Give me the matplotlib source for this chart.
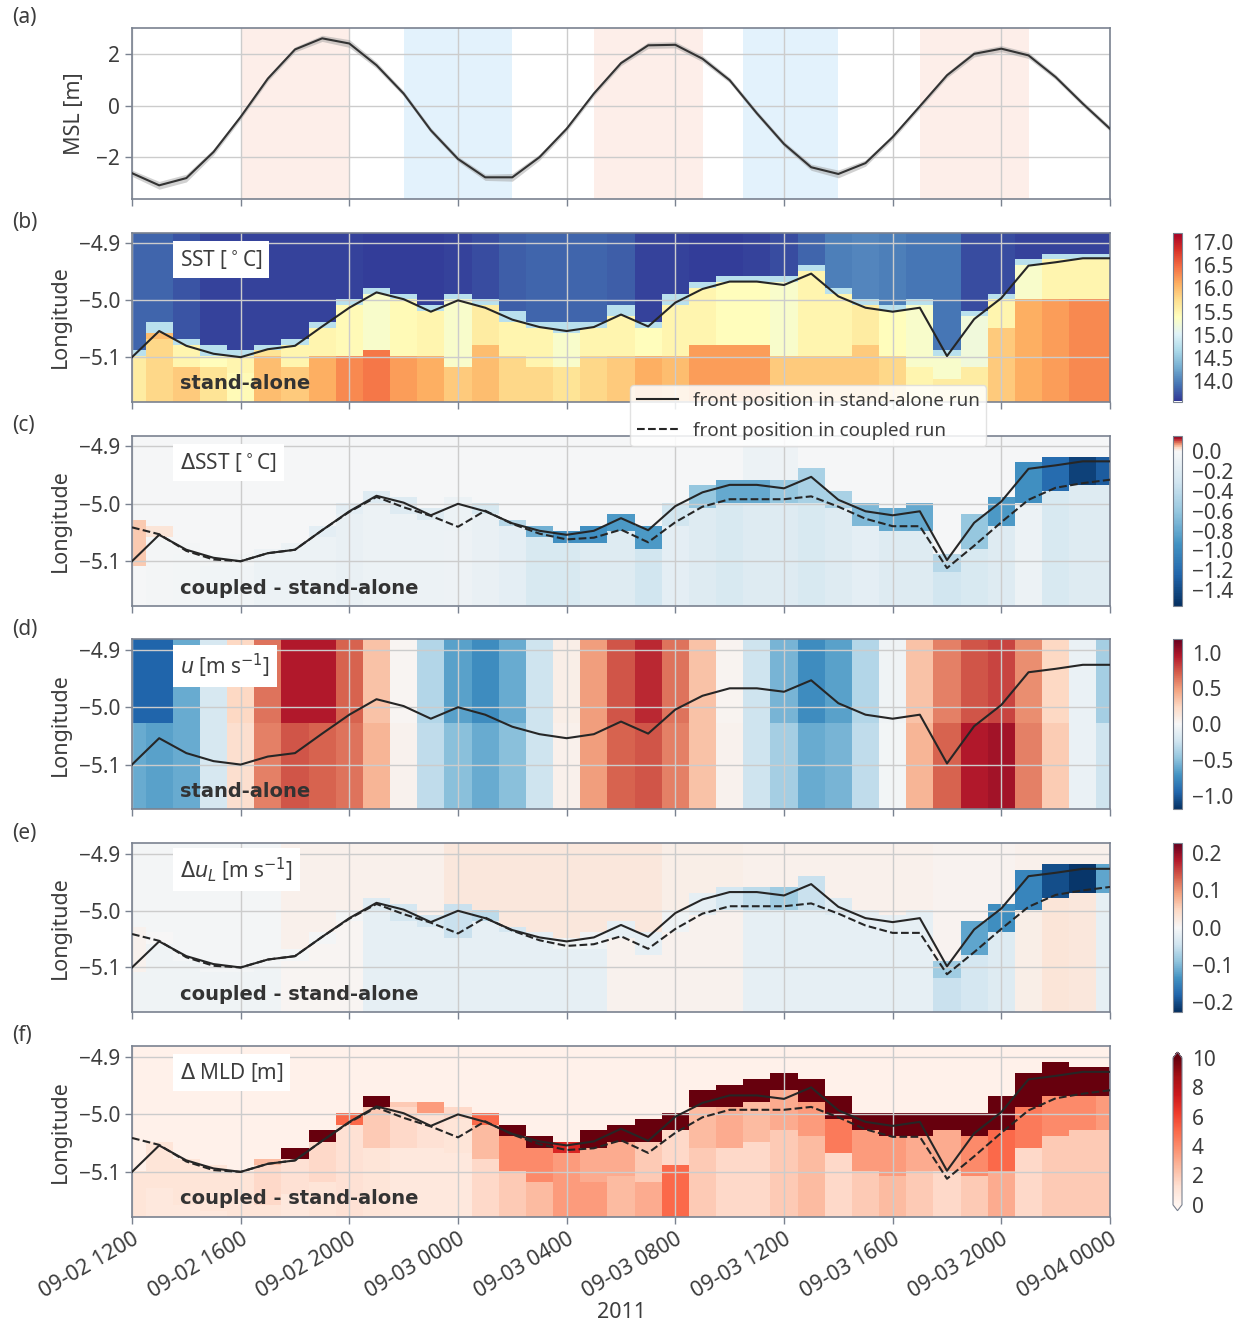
import numpy as np
import pandas as pd
import matplotlib
matplotlib.use('Agg')
import matplotlib.pyplot as plt
import matplotlib.dates as mdates
from matplotlib.colors import Normalize, ListedColormap
from matplotlib.lines import Line2D

plt.rcParams['font.family'] = ['Noto Sans', 'DejaVu Sans']
plt.rcParams['mathtext.fontset'] = 'dejavusans'
plt.rcParams['axes.unicode_minus'] = True

TXT = '#3d3d3d'
SPINE = '#7a8290'
GRID = '#cccccc'

# ---- data (hourly, 2011-09-02 12:00 .. 2011-09-04 00:00) ----
times = pd.date_range('2011-09-02 12:00', periods=37, freq='h')

msl = [-2.62, -3.09, -2.81, -1.80, -0.44, 1.04, 2.17, 2.60, 2.40, 1.56,
       0.46, -0.96, -2.07, -2.78, -2.78, -2.00, -0.90, 0.46, 1.64, 2.33,
       2.35, 1.81, 0.98, -0.30, -1.49, -2.39, -2.65, -2.23, -1.22, -0.03,
       1.17, 2.00, 2.20, 1.94, 1.10, 0.07, -0.90]
msl_spread = [0.12, 0.15, 0.15, 0.12, 0.10, 0.10, 0.10, 0.12, 0.15, 0.12,
              0.10, 0.10, 0.10, 0.12, 0.15, 0.12, 0.10, 0.10, 0.10, 0.12,
              0.12, 0.12, 0.10, 0.10, 0.10, 0.12, 0.15, 0.12, 0.10, 0.10,
              0.10, 0.12, 0.12, 0.12, 0.10, 0.10, 0.10]
flood_hours = [(4, 8), (17, 21), (29, 33)]
ebb_hours = [(10, 14), (22.5, 26)]

front_sa = [-5.100, -5.054, -5.080, -5.094, -5.100, -5.086, -5.080, -5.046, -5.013, -4.986,
            -4.998, -5.020, -5.000, -5.013, -5.034, -5.047, -5.054, -5.047, -5.025, -5.046,
            -5.004, -4.980, -4.967, -4.967, -4.973, -4.953, -4.993, -5.013, -5.020, -5.013,
            -5.098, -5.033, -4.996, -4.939, -4.933, -4.926, -4.926]
front_cp = [-5.041, -5.053, -5.082, -5.097, -5.100, -5.086, -5.080, -5.046, -5.014, -4.988,
            -5.006, -5.021, -5.040, -5.012, -5.035, -5.052, -5.062, -5.059, -5.045, -5.067,
            -5.032, -5.005, -4.992, -4.992, -4.992, -4.987, -5.005, -5.026, -5.039, -5.039,
            -5.112, -5.073, -5.032, -4.993, -4.972, -4.964, -4.958]

lon = np.arange(-5.173, -4.88, 0.01)

# SST stand-alone [deg C]
sst_cold = [13.85, 13.85, 13.75, 13.65, 13.65, 13.65, 13.65, 13.65, 13.65, 13.62,
            13.62, 13.62, 13.65, 13.7, 13.8, 13.85, 13.85, 13.85, 13.8, 13.65,
            13.65, 13.62, 13.62, 13.65, 13.7, 13.85, 14.0, 14.05, 14.0, 13.95,
            13.95, 13.7, 13.7, 13.65, 13.65, 13.65, 13.65]
sst_near = [15.6, 16.0, 15.5, 15.4, 15.5, 15.7, 15.5, 15.5, 15.45, 15.3,
            15.45, 15.5, 15.3, 15.6, 15.5, 15.5, 15.3, 15.5, 15.5, 15.4,
            15.5, 15.5, 15.4, 15.4, 15.3, 15.5, 15.5, 15.6, 15.4, 15.3,
            15.3, 15.2, 15.5, 15.3, 15.5, 15.5, 15.5]
sst_far = [15.5, 15.8, 15.9, 15.7, 15.45, 16.0, 15.9, 16.1, 16.3, 16.4,
           16.2, 16.1, 15.9, 16.0, 15.8, 15.8, 15.7, 15.8, 15.9, 16.1,
           16.0, 16.2, 16.2, 16.2, 15.9, 15.9, 15.9, 15.9, 15.8, 15.5,
           15.6, 15.6, 15.9, 16.1, 16.2, 16.3, 16.3]
sst_split = [-5.18, -5.07, -5.12, -5.12, -5.13, -5.10, -5.12, -5.10, -5.10, -5.09,
             -5.10, -5.10, -5.12, -5.08, -5.10, -5.12, -5.12, -5.10, -5.10, -5.10,
             -5.10, -5.08, -5.08, -5.08, -5.10, -5.10, -5.10, -5.08, -5.10, -5.12,
             -5.14, -5.12, -5.05, -5.00, -5.00, -5.00, -5.00]
SST_EDGE = 14.75

# delta SST coupled - stand-alone [deg C]
dsst_n = [-0.02] * 23 + [-0.1, -0.08] + [-0.02] * 12
dsst_band = [0.04, 0.02, -0.03, -0.05, -0.05, -0.08, -0.1, -0.15, -0.15, -0.2,
             -0.2, -0.2, -0.1, -0.25, -0.45, -0.75, -0.95, -0.95, -0.9, -0.9,
             -0.3, -0.6, -0.8, -0.8, -0.6, -0.5, -0.5, -0.7, -0.8, -0.8,
             -0.45, -0.6, -0.9, -0.95, -1.2, -1.45, -1.3]
dsst_s = [-0.02, -0.03, -0.05, -0.06, -0.06, -0.1, -0.1, -0.1, -0.12, -0.1,
          -0.1, -0.1, -0.08, -0.12, -0.15, -0.25, -0.25, -0.2, -0.2, -0.3,
          -0.15, -0.2, -0.25, -0.2, -0.2, -0.25, -0.2, -0.15, -0.2, -0.2,
          -0.3, -0.25, -0.2, -0.1, -0.25, -0.2, -0.2]

# u stand-alone [m/s]
u_top = [-0.95, -0.95, -0.6, -0.2, 0.25, 0.65, 0.95, 0.95, 0.7, 0.35,
         0.02, -0.35, -0.65, -0.75, -0.6, -0.25, 0.08, 0.5, 0.75, 0.9,
         0.65, 0.35, 0.03, -0.25, -0.55, -0.75, -0.65, -0.35, -0.05, 0.35,
         0.6, 0.75, 0.8, 0.55, 0.25, -0.08, -0.4]
u_bot = [-0.6, -0.65, -0.6, -0.2, 0.2, 0.6, 0.75, 0.7, 0.65, 0.4,
         0.05, -0.3, -0.5, -0.6, -0.5, -0.25, 0.06, 0.5, 0.7, 0.75,
         0.6, 0.35, 0.05, -0.25, -0.4, -0.6, -0.55, -0.3, -0.03, 0.4,
         0.7, 0.95, 1.0, 0.6, 0.3, -0.08, -0.25]

# delta u_L coupled - stand-alone [m/s]
du_n = [-0.005] * 6 + [0.012] * 6 + [0.025] * 8 + [0.015] * 3 + [0.012] * 7 + [0.008] * 3 + [0.012] * 4
du_band = [0.01, 0.0, -0.005, -0.005, -0.005, -0.005, -0.005, -0.005, -0.005, -0.03,
           -0.04, -0.04, -0.05, -0.06, -0.04, -0.02, -0.01, -0.01, -0.02, -0.02,
           -0.01, -0.02, -0.04, -0.06, -0.08, -0.05, -0.03, -0.02, -0.02, -0.02,
           -0.08, -0.12, -0.14, -0.15, -0.2, -0.22, -0.12]
du_s = [-0.01] * 6 + [0.005] * 3 + [-0.02] * 9 + [0.01] * 5 + [-0.02] * 7 + \
       [-0.05, -0.04, -0.03, 0.015, 0.03, 0.025, -0.02]

# delta MLD coupled - stand-alone [m]
MLD_NORTH = 0.25
mld_top = [-5.100, -5.054, -5.080, -5.094, -5.100, -5.080, -5.064, -5.038, -5.005, -4.978,
           -4.980, -4.987, -4.997, -5.005, -5.025, -5.045, -5.054, -5.038, -5.020, -5.018,
           -5.003, -4.966, -4.958, -4.944, -4.931, -4.944, -4.971, -5.003, -5.005, -5.005,
           -5.003, -5.003, -4.978, -4.932, -4.910, -4.919, -4.923]
mld_bot = [-5.105, -5.059, -5.085, -5.099, -5.105, -5.088, -5.072, -5.045, -5.011, -4.985,
           -4.985, -4.993, -5.003, -5.011, -5.031, -5.051, -5.063, -5.050, -5.040, -5.045,
           -5.019, -4.987, -4.984, -4.978, -4.957, -4.969, -5.001, -5.026, -5.038, -5.031,
           -5.028, -5.038, -5.028, -4.987, -4.966, -4.963, -4.959]
mld_strip = [1.0, 1.0, 1.0, 1.0, 1.0, 2.5, 12, 12, 5, 12,
             2.0, 3.5, 1.5, 5, 12, 12, 7, 12, 12, 12,
             12, 12, 12, 12, 12, 12, 12, 12, 12, 12,
             12, 12, 12, 12, 12, 12, 12]
mld_near = [1.0, 1.0, 1.0, 1.0, 1.0, 1.5, 1.2, 1.5, 1.2, 2.0,
            1.5, 1.2, 1.0, 2.5, 4.0, 4.0, 3.5, 3.0, 3.0, 2.0,
            1.5, 2.5, 3.0, 2.5, 3.0, 3.5, 4.5, 3.5, 3.5, 3.0,
            3.0, 4.0, 5.0, 4.5, 4.0, 4.0, 3.5]
mld_far = [0.8, 0.8, 0.8, 0.8, 0.8, 1.0, 0.8, 1.0, 1.2, 1.0,
           0.8, 0.8, 0.8, 1.5, 2.0, 2.5, 3.5, 3.5, 2.5, 3.0,
           5.0, 2.0, 1.5, 1.5, 2.0, 2.5, 1.5, 2.0, 2.5, 2.0,
           1.5, 2.0, 3.0, 1.5, 2.0, 2.0, 2.0]

# ---- build the gridded fields from the column values ----
nt, ny = len(times), len(lon)
sst = np.zeros((ny, nt))
dsst = np.zeros((ny, nt))
u = np.zeros((ny, nt))
du = np.zeros((ny, nt))
dmld = np.zeros((ny, nt))
for j in range(nt):
    s, d = front_sa[j], front_cp[j]
    hi, lo = max(s, d) + 0.01, min(s, d) - 0.008
    for i, y in enumerate(lon):
        if y > s + 0.012:
            sst[i, j] = sst_cold[j]
        elif y > s:
            sst[i, j] = SST_EDGE
        elif y > sst_split[j]:
            sst[i, j] = sst_near[j]
        else:
            sst[i, j] = sst_far[j]

        if y > hi:
            dsst[i, j], du[i, j] = dsst_n[j], du_n[j]
        elif y > lo:
            dsst[i, j], du[i, j] = dsst_band[j], du_band[j]
        else:
            dsst[i, j], du[i, j] = dsst_s[j], du_s[j]

        u[i, j] = u_top[j] if y > -5.03 else u_bot[j]

        if y - 0.005 >= mld_top[j]:
            dmld[i, j] = MLD_NORTH
        elif y + 0.005 > mld_bot[j]:
            dmld[i, j] = mld_strip[j]
        elif y > mld_bot[j] - 0.07:
            dmld[i, j] = mld_near[j]
        else:
            dmld[i, j] = mld_far[j]

# ---- figure ----
W, H = 1240, 1324
fig = plt.figure(figsize=(W / 100, H / 100), dpi=100)


def rect(top, bottom, left=132, right=1110):
    return [left / W, 1 - bottom / H, (right - left) / W, (bottom - top) / H]


panels = [(28, 198.5), (232.7, 401.5), (435.5, 606), (639, 809.3), (843.3, 1011.7), (1046, 1216.7)]
tnum = mdates.date2num(times)
t0 = times[0]


def style(ax):
    for sp in ax.spines.values():
        sp.set_color(SPINE)
        sp.set_linewidth(1.2)
    ax.grid(True, color=GRID, lw=1.0)
    ax.tick_params(colors=SPINE, labelcolor=TXT, labelsize=15, length=5, width=1.0)
    ax.tick_params(axis='x', labelsize=15.5)
    ax.xaxis.set_major_locator(mdates.HourLocator(byhour=range(0, 24, 4)))
    ax.xaxis.set_major_formatter(mdates.DateFormatter('%m-%d %H%M'))
    ax.set_xlim(tnum[0], tnum[-1])


axes = [fig.add_axes(rect(*p)) for p in panels]

# (a) sea level
ax = axes[0]
for a, b in flood_hours:
    ax.axvspan(t0 + pd.Timedelta(hours=a), t0 + pd.Timedelta(hours=b), color='#fdeee9', lw=0)
for a, b in ebb_hours:
    ax.axvspan(t0 + pd.Timedelta(hours=a), t0 + pd.Timedelta(hours=b), color='#e3f2fc', lw=0)
msl_a = np.array(msl)
spr = np.array(msl_spread)
ax.fill_between(tnum, msl_a - spr, msl_a + spr, color='#9a9a9a', alpha=0.45, lw=0, zorder=2)
ax.plot(tnum, msl_a, color='#333333', lw=1.5, zorder=3)
ax.set_ylim(-3.6, 3.0)
ax.set_yticks([-2, 0, 2])
ax.set_ylabel('MSL [m]', fontsize=15.5, color=TXT, labelpad=8)
style(ax)

# colormap for delta SST: white at zero
base = plt.get_cmap('RdBu_r')
dsst_cmap = ListedColormap(np.vstack([base(np.linspace(0, 0.5, 232)), base(np.linspace(0.5, 1, 24))]))

fields = [
    (sst, 'RdYlBu_r', Normalize(13.57, 17.19), [14.0, 14.5, 15.0, 15.5, 16.0, 16.5, 17.0],
     r'SST [$^\circ$C]', 'stand-alone', False, 'neither'),
    (dsst, dsst_cmap, Normalize(-1.56, 0.16), [0.0, -0.2, -0.4, -0.6, -0.8, -1.0, -1.2, -1.4],
     r'$\Delta$SST [$^\circ$C]', 'coupled - stand-alone', True, 'neither'),
    (u, 'RdBu_r', Normalize(-1.19, 1.19), [-1.0, -0.5, 0.0, 0.5, 1.0],
     r'$u$ [m s$^{-1}$]', 'stand-alone', False, 'neither'),
    (du, 'RdBu_r', Normalize(-0.226, 0.226), [-0.2, -0.1, 0.0, 0.1, 0.2],
     r'$\Delta u_L$ [m s$^{-1}$]', 'coupled - stand-alone', True, 'neither'),
    (dmld, 'Reds', Normalize(0, 10), [0, 2, 4, 6, 8, 10],
     r'$\Delta$ MLD [m]', 'coupled - stand-alone', True, 'both'),
]

for k, (field, cmap, norm, cticks, title, run, dashed, ext) in enumerate(fields):
    ax = axes[k + 1]
    top, bottom = panels[k + 1]
    m = ax.pcolormesh(tnum, lon, field, cmap=cmap, norm=norm, shading='nearest')
    ax.plot(tnum, front_sa, color='#262626', lw=1.5, zorder=3)
    if dashed:
        ax.plot(tnum, front_cp, color='#262626', lw=1.5, ls='--', zorder=3)
    ax.set_ylim(-5.178, -4.881)
    ax.set_yticks([-5.1, -5.0, -4.9])
    ax.set_ylabel('Longitude', fontsize=15.5, color=TXT, labelpad=6)
    style(ax)
    ax.text(0.049, 0.843, title, transform=ax.transAxes, fontsize=15, color=TXT,
            va='center', ha='left', zorder=5,
            bbox=dict(facecolor='white', edgecolor='none', pad=5))
    ax.text(0.049, 0.104, run, transform=ax.transAxes, fontsize=14, color='#333333',
            family='DejaVu Sans', fontweight='bold', va='center', ha='left', zorder=5)
    if ext == 'both':
        cax = fig.add_axes(rect(top + 6, bottom - 6, 1173, 1182))
        cb = fig.colorbar(m, cax=cax, ticks=cticks, extend='both', extendfrac=0.04)
        cb.ax.set_yticklabels([str(v) for v in cticks])
    else:
        cax = fig.add_axes(rect(top, bottom, 1173, 1182))
        cb = fig.colorbar(m, cax=cax, ticks=cticks)
        cb.ax.set_yticklabels([('%.1f' % v).replace('-', '\u2212') for v in cticks])
    cb.ax.tick_params(length=0, pad=7, labelsize=15, labelcolor=TXT)
    cb.outline.set_edgecolor(SPINE)
    cb.outline.set_linewidth(0.8)

for ax in axes[:-1]:
    ax.tick_params(labelbottom=False)
for lab in axes[-1].get_xticklabels():
    lab.set_rotation(30)
    lab.set_ha('right')
    lab.set_rotation_mode('anchor')

fig.text(621 / W, 1 - 1312 / H, '2011', ha='center', va='center', fontsize=15.5, color=TXT)

for k, name in enumerate('abcdef'):
    top = panels[k][0]
    fig.text(12 / W, 1 - (top - 10) / H, '(%s)' % name, ha='left', va='center', fontsize=15, color=TXT)

handles = [Line2D([], [], color='#262626', lw=1.5),
           Line2D([], [], color='#262626', lw=1.5, ls='--')]
leg = fig.legend(handles, ['front position in stand-alone run', 'front position in coupled run'],
                 loc='upper left', bbox_to_anchor=(630 / W, 1 - 385 / H), fontsize=13.5,
                 frameon=True, framealpha=0.85, edgecolor='#dddddd', facecolor='white',
                 handlelength=2.2, borderpad=0.35, labelspacing=0.65, borderaxespad=0)
for t in leg.get_texts():
    t.set_color(TXT)

fig.savefig('out.png', dpi=100)
